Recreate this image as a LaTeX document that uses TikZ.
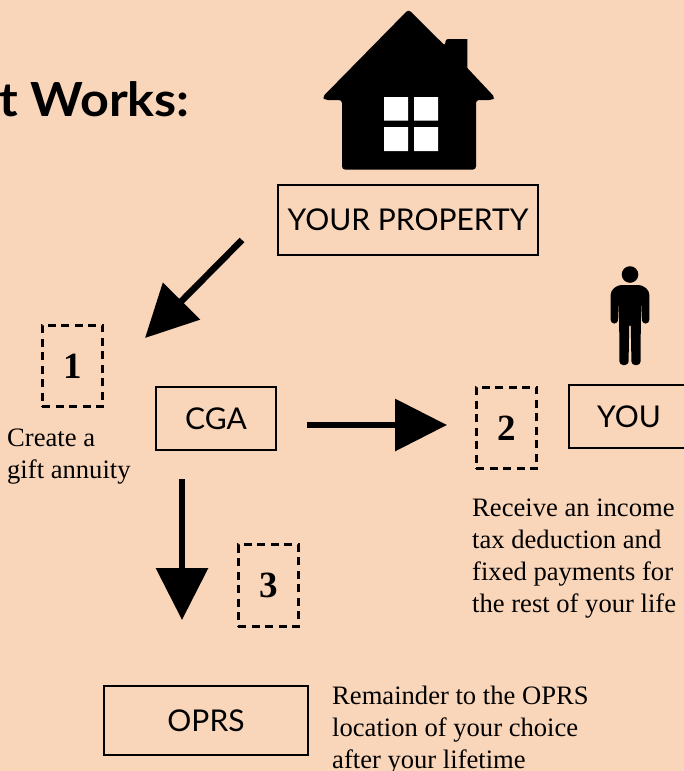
\documentclass[tikz,border=0pt]{standalone}
\usepackage{fontspec}
\setmainfont{Liberation Serif}
\newfontfamily\gillish{Lato}
\newfontfamily\gillishwide[FakeStretch=1.07]{Lato}
\usetikzlibrary{arrows.meta}
\definecolor{peach}{HTML}{F9D5BA}
\tikzset{
  box/.style={draw=black,line width=1.1pt,inner sep=0pt,minimum height=#1,font=\gillish\fontsize{30}{32}\selectfont,text=black},
  numbox/.style={draw=black,line width=3pt,dash pattern=on 8pt off 5.5pt,minimum width=60.5pt,minimum height=81.5pt,inner sep=0pt,font=\bfseries\fontsize{37}{40}\selectfont},
  note/.style={align=left,anchor=north west,inner sep=0pt,font=\fontsize{26.6}{32}\selectfont},
  bigarrow/.style={line width=6.5pt,-{Triangle[length=52pt,width=51pt]}}
}
\begin{document}
\begin{tikzpicture}[x=1pt,y=-1pt]
\useasboundingbox (0,0) rectangle (684,771);
\fill[peach] (0,0) rectangle (684,771);
\node[anchor=base east,inner sep=0pt,font=\gillishwide\bfseries\fontsize{47}{54}\selectfont] (title) at (190,116) {t Works:};
% house
\fill[black,rounded corners=3pt] (408.5,9.5) -- (445.3,46) -- (445.3,39) [sharp corners] -- (467.3,39) -- (467.3,68) [rounded corners=3pt] -- (495,97.5) -- (492,100) -- (476,100) -- (476,169.5) -- (342,169.5) -- (342,100) -- (325,100) -- (322.5,97) -- cycle;
\fill[white] (384,97) rectangle (408,120.7) (414,97) rectangle (438,120.7) (384,127) rectangle (408,151) (414,127) rectangle (438,151);
% person
\fill[black] (630,274.5) circle (8.3);
\fill[black,rounded corners=3.5pt] (618,285) -- (642,285) -- (649.3,291) -- (649.3,323.5) -- (642,323.5) -- (641,300) -- (640.5,365) -- (631.5,365) -- (630.7,323) -- (629.3,323) -- (628.5,365) -- (619.5,365) -- (619,300) -- (618,323.5) -- (610.7,323.5) -- (610.7,291) -- cycle;
% boxes
\node[box=70pt,minimum width=260pt] (prop) at (408,220) {YOUR PROPERTY};
\node[box=63pt,minimum width=120pt] (cga) at (216,418.5) {CGA};
\node[box=63pt,minimum width=120pt] (you) at (629,416.5) {YOU};
\node[box=69pt,minimum width=204pt] (oprs) at (206,720.5) {OPRS};
% numbered
\node[numbox] (n1) at (72.5,366) {\raisebox{-1pt}{1}};
\node[numbox] (n2) at (506.5,428) {\raisebox{-1pt}{2}};
\node[numbox] (n3) at (268.5,585.5) {\raisebox{-1pt}{3}};
% notes
\node[note] (t1) at (7,429) {Create a\\gift annuity};
\node[note] (t2) at (472,499) {Receive an income\\tax deduction and\\fixed payments for\\the rest of your life};
\node[note] (t3) at (332,685.5) {Remainder to the OPRS\\location of your choice\\after your lifetime};
% arrows
\coordinate (a1s) at (242,240); \coordinate (a1e) at (145,338);
\coordinate (a2s) at (307,425); \coordinate (a2e) at (447,425);
\coordinate (a3s) at (182,479); \coordinate (a3e) at (182,620);
\draw[bigarrow] (a1s) -- (a1e);
\draw[bigarrow] (a2s) -- (a2e);
\draw[bigarrow] (a3s) -- (a3e);
\end{tikzpicture}
\end{document}
